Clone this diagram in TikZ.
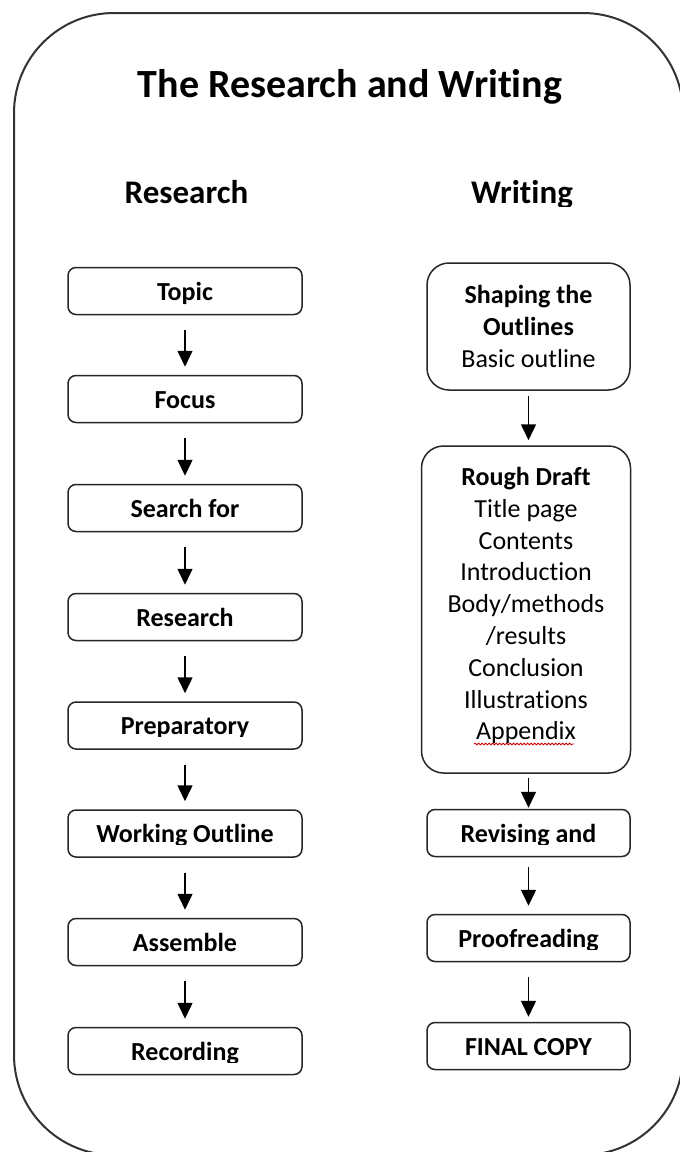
\documentclass[tikz,border=0pt]{standalone}
\usepackage{fontspec}
\setmainfont{Carlito}[Ligatures=NoCommon]
\usetikzlibrary{arrows.meta,decorations.pathmorphing}
\begin{document}
\begin{tikzpicture}[x=1pt,y=-1pt,
  frame/.style={draw=black!80,line width=2pt,rounded corners=100pt},
  sbox/.style={draw=black!85,line width=1.5pt,rounded corners=8pt,minimum width=234pt,minimum height=47pt,inner sep=0pt},
  rsbox/.style={sbox,minimum width=203pt},
  bigbox/.style={draw=black!85,line width=1.5pt,rounded corners=22pt,inner sep=0pt,align=center},
  lbl/.style={inner sep=0pt,text height=18pt,text depth=0pt,font=\fontsize{26}{31}\selectfont\bfseries},
  head/.style={inner sep=0pt,anchor=base,font=\fontsize{33}{38}\selectfont\bfseries},
  arr/.style={draw=black,line width=1.5pt,-{Triangle[width=15pt,length=16pt]}}
]
\useasboundingbox (0,0) rectangle (680,1152);
\clip (0,0) rectangle (680,1152);
\fill[white] (0,0) rectangle (680,1152);
\draw[frame] (14,13) rectangle (683,1155);

% titles
\node[head,font=\fontsize{40}{46}\selectfont\bfseries] (title) at (350,97) {The Research and Writing};
\node[head] (hres) at (186.5,203) {Research};
\begin{scope}
\clip (0,0) rectangle (680,206);
\node[head] (hwri) at (522,203) {Writing};
\end{scope}

% left column
\node[sbox] (topic) at (185,291) {};
\node[lbl] (topicT) at (topic) {Topic};
\node[sbox] (focus) at (185,399) {};
\node[lbl] (focusT) at (focus) {Focus};
\node[sbox] (search) at (185,508) {};
\node[lbl] (searchT) at (search) {Search for};
\node[sbox] (res) at (185,617) {};
\node[lbl] (resT) at (res) {Research};
\node[sbox] (prep) at (185,725.5) {};
\begin{scope}
\clip (0,0) rectangle (680,736.5);
\node[lbl] (prepT) at (prep) {Preparatory};
\end{scope}
\node[sbox] (work) at (185,833.5) {};
\begin{scope}
\clip (0,0) rectangle (680,844.5);
\node[lbl] (workT) at (work) {Working Outline};
\end{scope}
\node[sbox] (assem) at (185,942) {};
\node[lbl] (assemT) at (assem) {Assemble};
\node[sbox] (rec) at (185,1051) {};
\begin{scope}
\clip (0,0) rectangle (680,1062);
\node[lbl] (recT) at (rec) {Recording};
\end{scope}

\foreach \a/\b in {topic/focus,focus/search,search/res,res/prep,prep/work,work/assem,assem/rec}
  \draw[arr,shorten <=15pt,shorten >=8pt] (\a) -- (\b);

% right column
\node[bigbox,minimum width=203pt,minimum height=127pt,font=\fontsize{26}{31.8}\selectfont] (shape) at (528.5,326.5)
  {\textbf{Shaping the}\\\textbf{Outlines}\\Basic outline};
\node[bigbox,minimum width=209pt,minimum height=327pt,font=\fontsize{26}{31.8}\selectfont] (rough) at (526,609.5)
  {\textbf{Rough Draft}\\Title page\\Contents\\Introduction\\Body/methods\\/results\\Conclusion\\Illustrations\\Appendix\rule[-12pt]{0pt}{0pt}};
\draw[red!80!black,line width=0.8pt,decorate,decoration={snake,amplitude=0.9pt,segment length=3.5pt}] (474,744) -- (574,744);

\node[rsbox] (rev) at (528.5,833) {};
\begin{scope}
\clip (0,0) rectangle (680,844);
\node[lbl] (revT) at (rev) {Revising and};
\end{scope}
\node[rsbox] (proof) at (528.5,938) {};
\begin{scope}
\clip (0,0) rectangle (680,949);
\node[lbl] (proofT) at (proof) {Proofreading};
\end{scope}
\node[rsbox] (final) at (528.5,1046) {};
\node[lbl] (finalT) at (final) {FINAL COPY};

\draw[arr,shorten <=5pt,shorten >=5pt] (shape) -- (shape |- rough.north);
\draw[arr,shorten <=4pt,shorten >=1pt] (rough.south -| rev) -- (rev);
\draw[arr,shorten <=10pt,shorten >=8pt] (rev) -- (proof);
\draw[arr,shorten <=15pt,shorten >=5pt] (proof) -- (final);
\end{tikzpicture}
\end{document}
